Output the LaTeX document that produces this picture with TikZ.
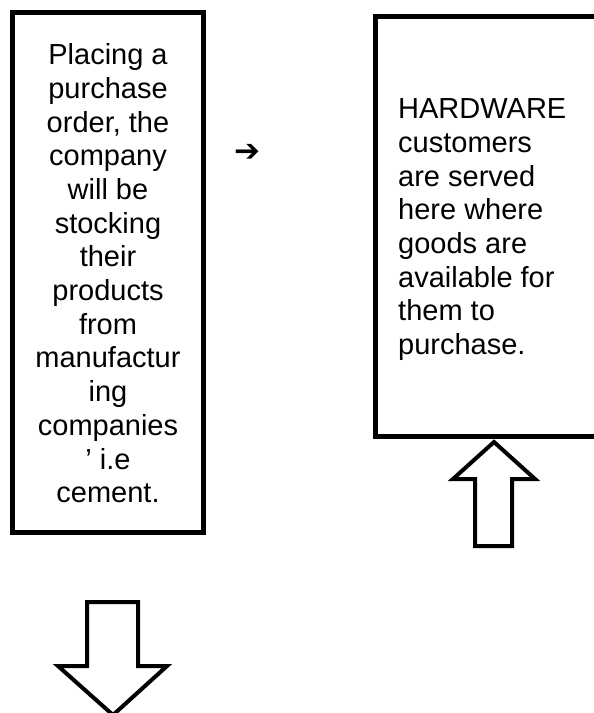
\documentclass[tikz,border=0pt]{standalone}
\usepackage{fontspec}
\setmainfont{Liberation Sans}
\newfontfamily\symfont{DejaVu Sans}
\usetikzlibrary{positioning}
\usetikzlibrary{calc}

\tikzset{
	box/.style={draw,line width=5pt,inner sep=0pt},
	boxtext/.style={font=\fontsize{29}{33.7}\selectfont,inner sep=0pt},
	blockarrow/.style={draw,line width=4pt,line join=miter},
}

\begin{document}
\begin{tikzpicture}[x=1pt,y=-1pt]
		\useasboundingbox (0,0) rectangle (594,713);

		\begin{scope}[every node/.style={box}]
			\node[minimum width=191pt,minimum height=520pt] (order) at (107.5,272) {};
			\node[minimum width=245pt,minimum height=420pt] (shop) at (497.5,226) {};
		\end{scope}

		% anchor base sits on the last line
		\begin{scope}[every node/.style={boxtext}]
			\node[align=center,anchor=base] (ordertext) at (108,502.7) {Placing a\\purchase\\order, the\\company\\will be\\stocking\\their\\products\\from\\manufactur\\ing\\companies\\’ i.e\\cement.};
			\node[align=left,anchor=base west] (shoptext) at (398,354.5) {HARDWARE\\customers\\are served\\here where\\goods are\\available for\\them to\\purchase.};
		\end{scope}

		\node[font=\symfont\fontsize{31}{31}\selectfont,inner sep=0pt] (link) at (247,153) {➔};

		% block arrows
		\draw[blockarrow] (494,442) -- (535,479) -- (512,479) -- (512,546) -- (475,546) -- (475,479) -- (453,479) -- cycle;
		\draw[blockarrow] (87,602) -- (138,602) -- (138,666) -- (167,666) -- (113,715) -- (58,666) -- (87,666) -- cycle;
	\end{tikzpicture}
\end{document}
